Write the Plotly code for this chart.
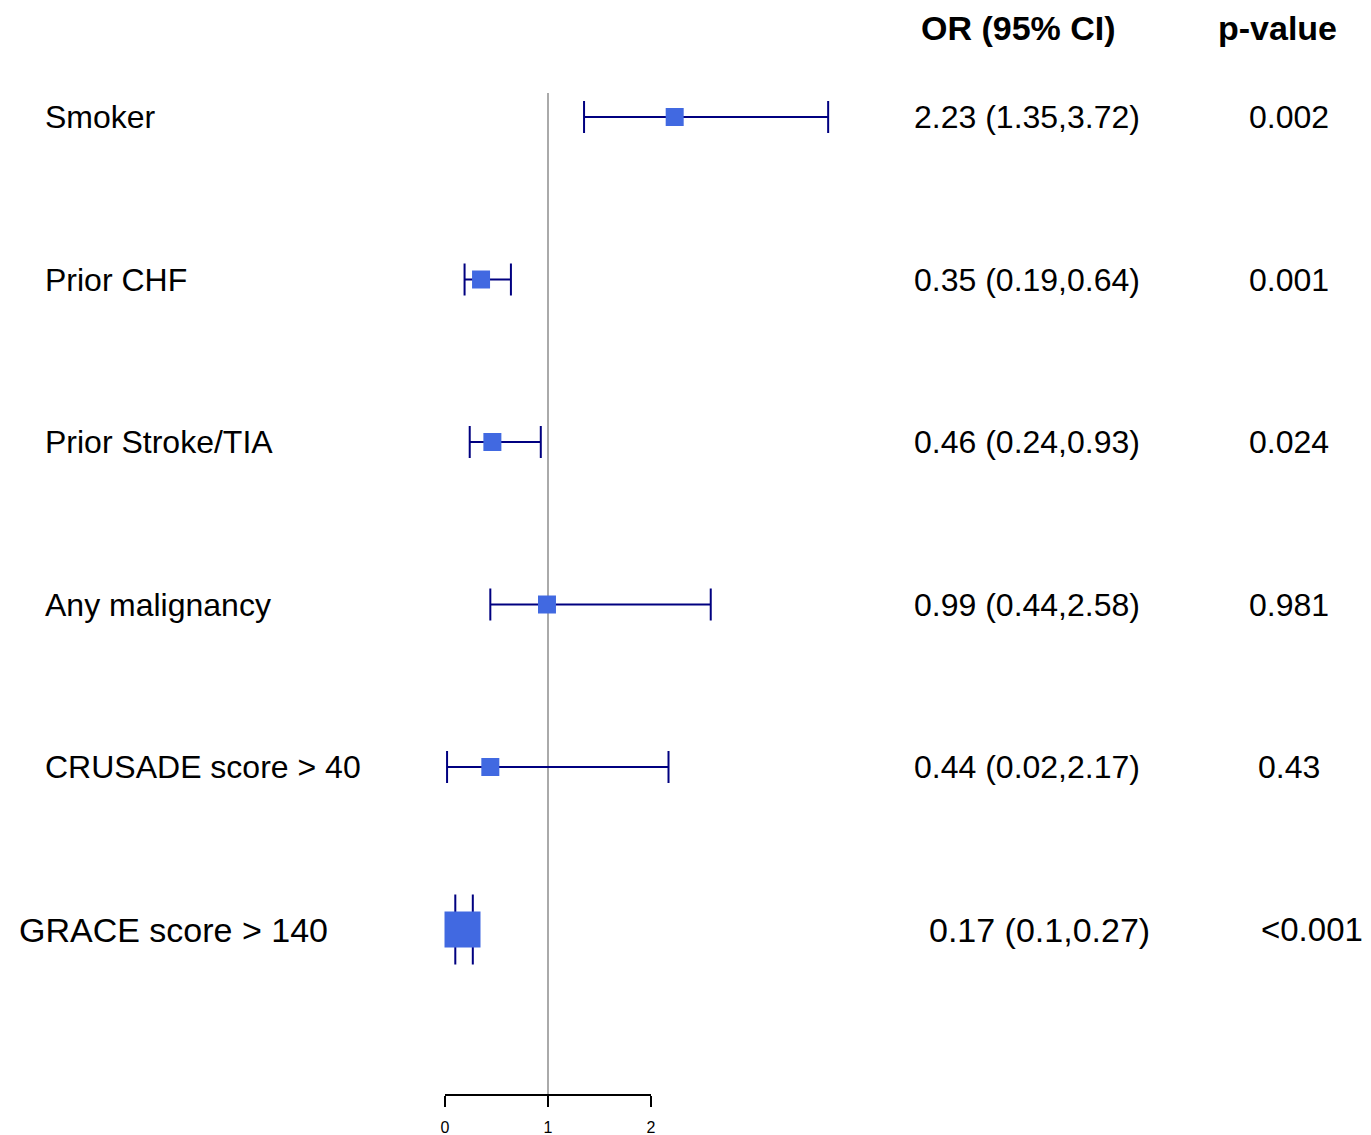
import plotly.graph_objects as go

labels = ["Smoker", "Prior CHF", "Prior Stroke/TIA", "Any malignancy",
          "CRUSADE score > 40", "GRACE score > 140"]
odds = [2.23, 0.35, 0.46, 0.99, 0.44, 0.17]
ci_low = [1.35, 0.19, 0.24, 0.44, 0.02, 0.10]
ci_high = [3.72, 0.64, 0.93, 2.58, 2.17, 0.27]
or_text = ["2.23 (1.35,3.72)", "0.35 (0.19,0.64)", "0.46 (0.24,0.93)",
           "0.99 (0.44,2.58)", "0.44 (0.02,2.17)", "0.17 (0.1,0.27)"]
p_values = ["0.002", "0.001", "0.024", "0.981", "0.43", "<0.001"]
tick_vals = [0, 1, 2]
tick_text = ["0", "1", "2"]

W, H = 1371, 1135
OFF = 8  # page body margin
AXIS_Y = 1095 - OFF
MB = H - AXIS_Y
PH = AXIS_Y
FONT = "Liberation Sans, Arial, sans-serif"
NAVY = "#000080"
BLUE = "#4169E1"

# x mapping: 0 -> screen px 445, 103 px per unit
x0 = -(445 - OFF) / 103
x1 = x0 + W / 103
# y mapping: row 0 at screen px 117, 162.5 px per row
y_top = -(117 - OFF) / 162.5
y_bot = (PH - (117 - OFF)) / 162.5

def px(p):
    return (p - OFF) / W

def py(p):
    return 1 - (p - OFF) / PH

fig = go.Figure()
n = len(labels)
main = list(range(n - 1))
fig.add_trace(go.Scatter(
    x=[odds[i] for i in main], y=main, mode="markers",
    marker=dict(symbol="square", size=18, color=BLUE, line=dict(width=0)),
    error_x=dict(type="data", symmetric=False,
                 array=[ci_high[i] - odds[i] for i in main],
                 arrayminus=[odds[i] - ci_low[i] for i in main],
                 color=NAVY, thickness=2, width=16),
    showlegend=False, hoverinfo="skip"))
g = n - 1
fig.add_trace(go.Scatter(
    x=[odds[g]], y=[g], mode="markers",
    marker=dict(symbol="square", size=36, color=BLUE, line=dict(width=0)),
    error_x=dict(type="data", symmetric=False,
                 array=[ci_high[g] - odds[g]],
                 arrayminus=[odds[g] - ci_low[g]],
                 color=NAVY, thickness=2, width=35),
    showlegend=False, hoverinfo="skip"))

# reference line at 1
fig.add_shape(type="line", xref="x", yref="paper", x0=1, x1=1,
              y0=0, y1=py(93), line=dict(color="#AAAAAA", width=2),
              layer="below")
# axis line spanning the ticks
fig.add_shape(type="line", xref="x", yref="paper", x0=tick_vals[0], x1=tick_vals[-1],
              y0=0, y1=0, line=dict(color="black", width=2))

ann = []
for i in range(n):
    big = (i == n - 1)
    fs = 34 if big else 32
    ann.append(dict(x=px(17 if big else 43), y=i, xref="paper", yref="y",
                    text=labels[i], showarrow=False, xanchor="left", yanchor="middle",
                    font=dict(family=FONT, size=fs, color="black")))
    ann.append(dict(x=px(927 if big else 912), y=i, xref="paper", yref="y",
                    text=or_text[i], showarrow=False, xanchor="left", yanchor="middle",
                    font=dict(family=FONT, size=fs, color="black")))
    if big:
        ann.append(dict(x=px(1259), y=i, xref="paper", yref="y",
                        text=p_values[i], showarrow=False, xanchor="left", yanchor="middle",
                        font=dict(family=FONT, size=33, color="black")))
    else:
        ann.append(dict(x=px(1289), y=i, xref="paper", yref="y",
                        text=p_values[i], showarrow=False, xanchor="center", yanchor="middle",
                        font=dict(family=FONT, size=fs, color="black")))
ann.append(dict(x=px(1018), y=1, xref="paper", yref="paper",
                text="<b>OR (95% CI)</b>", showarrow=False, xanchor="center",
                yanchor="top", borderpad=0, font=dict(family=FONT, size=34, color="black")))
ann.append(dict(x=px(1277), y=1, xref="paper", yref="paper",
                text="<b>p-value</b>", showarrow=False, xanchor="center",
                yanchor="top", borderpad=0, font=dict(family=FONT, size=34, color="black")))

fig.update_layout(
    width=W, height=H, margin=dict(l=0, r=0, t=0, b=MB),
    paper_bgcolor="white", plot_bgcolor="white",
    annotations=ann,
    xaxis=dict(range=[x0, x1], tickvals=tick_vals, ticktext=tick_text,
               ticks="outside", ticklen=11, tickwidth=2, tickcolor="black",
               ticklabelstandoff=7,
               showgrid=False, zeroline=False, showline=False,
               tickfont=dict(family=FONT, size=16, color="black")),
    yaxis=dict(range=[y_bot, y_top], showgrid=False, zeroline=False,
               showticklabels=False, ticks="", showline=False),
)
fig.write_html("out.html")
